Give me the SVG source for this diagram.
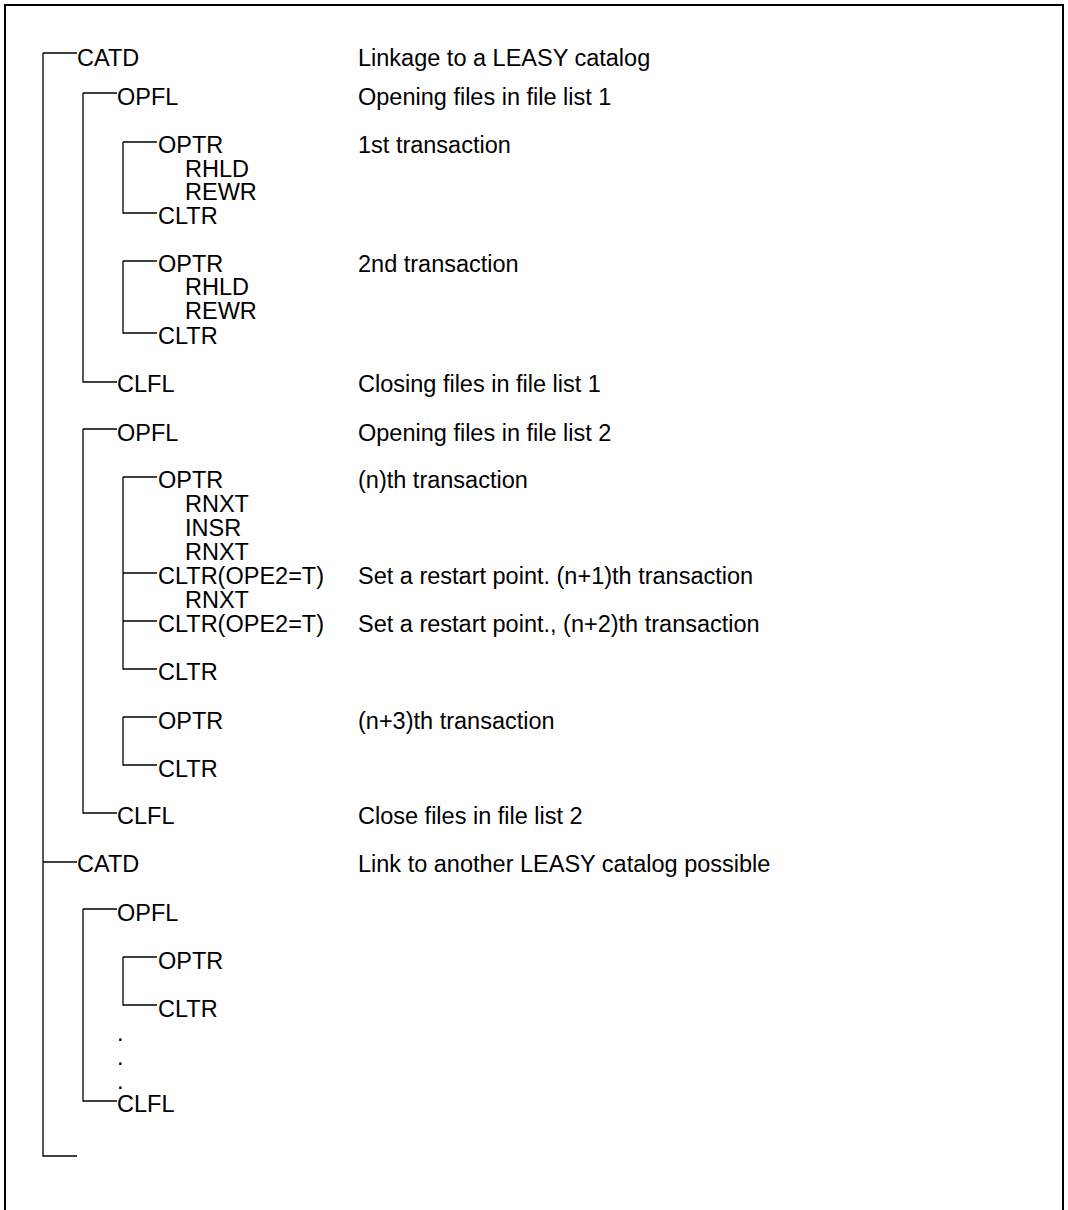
<svg xmlns="http://www.w3.org/2000/svg" width="1068" height="1210" viewBox="0 0 1068 1210">
<style>
text{font-family:"Liberation Sans",Arial,Helvetica,sans-serif;font-size:23.5px;fill:#000}
.c{fill:none;stroke:#000;stroke-width:1.3}
.f{fill:none;stroke:#000;stroke-width:2}
</style>
<rect width="1068" height="1210" fill="#fff"/>
<path class="f" d="M5,1210 V5 H1063 V1210"/>
<g id="connectors">
<path class="c" d="M43,53 H77 M43,53 V1156 H77"/>
<path class="c" d="M83,93 H117 M83,93 V382 H117"/>
<path class="c" d="M123,142 H157 M123,142 V213 H157"/>
<path class="c" d="M123,261 H157 M123,261 V333 H157"/>
<path class="c" d="M83,429 H117 M83,429 V813 H117"/>
<path class="c" d="M123,477 H157 M123,477 V669 H157 M123,573 H157 M123,621 H157"/>
<path class="c" d="M123,717 H157 M123,717 V765 H157"/>
<path class="c" d="M43,862 H77"/>
<path class="c" d="M83,909 H117 M83,909 V1101 H117"/>
<path class="c" d="M123,957 H157 M123,957 V1005 H157"/>
</g>
<g id="n-catd1"><text x="77" y="66">CATD</text><text x="358" y="66">Linkage to a LEASY catalog</text></g>
<g id="n-opfl1"><text x="117" y="105">OPFL</text><text x="358" y="105">Opening files in file list 1</text></g>
<g id="n-tr1"><text x="158" y="153">OPTR</text><text x="185" y="177">RHLD</text><text x="185" y="200">REWR</text><text x="158" y="224">CLTR</text><text x="358" y="153">1st transaction</text></g>
<g id="n-tr2"><text x="158" y="272">OPTR</text><text x="185" y="295">RHLD</text><text x="185" y="319">REWR</text><text x="158" y="344">CLTR</text><text x="358" y="272">2nd transaction</text></g>
<g id="n-clfl1"><text x="117" y="392">CLFL</text><text x="358" y="392">Closing files in file list 1</text></g>
<g id="n-opfl2"><text x="117" y="441">OPFL</text><text x="358" y="441">Opening files in file list 2</text></g>
<g id="n-trn"><text x="158" y="488">OPTR</text><text x="185" y="512">RNXT</text><text x="185" y="536">INSR</text><text x="185" y="560">RNXT</text><text x="358" y="488">(n)th transaction</text>
<text x="158" y="584">CLTR(OPE2=T)</text><text x="185" y="608">RNXT</text><text x="358" y="584">Set a restart point. (n+1)th transaction</text>
<text x="158" y="632">CLTR(OPE2=T)</text><text x="358" y="632">Set a restart point., (n+2)th transaction</text>
<text x="158" y="680">CLTR</text></g>
<g id="n-trn3"><text x="158" y="729">OPTR</text><text x="158" y="777">CLTR</text><text x="358" y="729">(n+3)th transaction</text></g>
<g id="n-clfl2"><text x="117" y="824">CLFL</text><text x="358" y="824">Close files in file list 2</text></g>
<g id="n-catd2"><text x="77" y="872">CATD</text><text x="358" y="872">Link to another LEASY catalog possible</text></g>
<g id="n-opfl3"><text x="117" y="921">OPFL</text></g>
<g id="n-tr3"><text x="158" y="969">OPTR</text><text x="158" y="1017">CLTR</text></g>
<g id="n-dots"><text x="117" y="1041">.</text><text x="117" y="1065">.</text><text x="117" y="1089">.</text></g>
<g id="n-clfl3"><text x="117" y="1112">CLFL</text></g>
</svg>
